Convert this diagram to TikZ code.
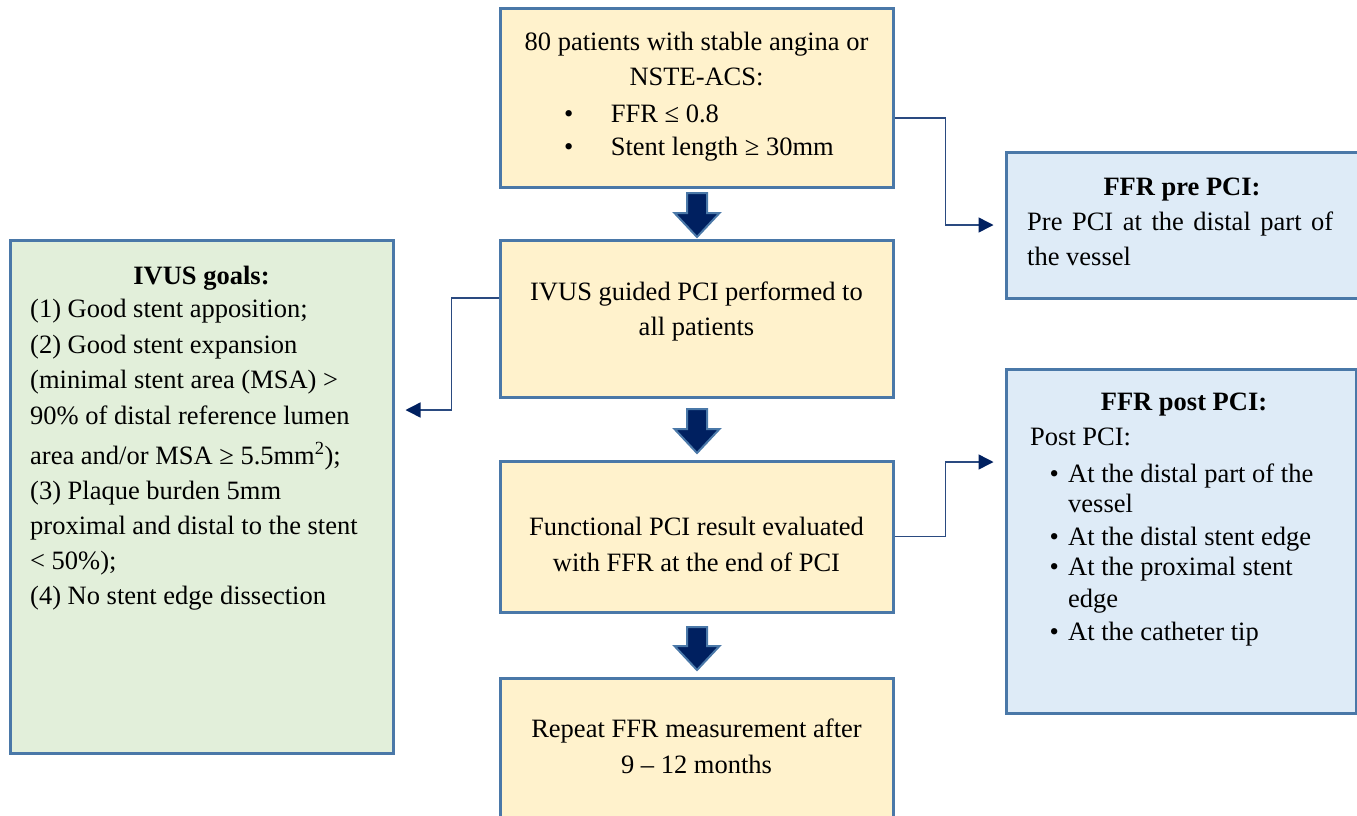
\documentclass[tikz,border=0pt]{standalone}
\usepackage{fontspec}
\setmainfont{Liberation Serif}
\usetikzlibrary{arrows.meta}
\definecolor{bordc}{HTML}{4A78A8}
\definecolor{yfill}{HTML}{FFF2CC}
\definecolor{gfill}{HTML}{E2EFDA}
\definecolor{bfill}{HTML}{DEEBF7}
\definecolor{navy}{HTML}{002060}
\definecolor{connc}{HTML}{2A4A80}
\tikzset{
  box/.style={draw=bordc, line width=3pt, rectangle, inner sep=0pt},
  ybox/.style={box, fill=yfill, minimum width=393pt},
  gbox/.style={box, fill=gfill},
  bbox/.style={box, fill=bfill},
  txt/.style={inner sep=0pt, font=\fontsize{26.5}{35}\selectfont},
  conn/.style={draw=connc, line width=1.5pt, -{Triangle[length=15pt,width=15pt,color=navy]}, shorten >=11pt},
  barrow/.style={fill=navy, draw=bordc, line width=2pt, line join=miter}
}
\begin{document}
\begin{tikzpicture}[x=1pt,y=-1pt]
\clip (0,0) rectangle (1357,815);
\fill[white] (0,0) rectangle (1357,815);
% boxes
\node[ybox, minimum height=179pt] (top) at (696.5,97.5) {};
\node[ybox, minimum height=157pt] (ivus) at (696.5,318.5) {};
\node[ybox, minimum height=151pt] (func) at (696.5,536.5) {};
\node[ybox, minimum height=162pt] (rep) at (696.5,759) {};
\node[gbox, minimum width=383pt, minimum height=513pt] (goals) at (201.5,496.5) {};
\node[bbox, minimum width=356pt, minimum height=146pt] (pre) at (1184,225) {};
\node[bbox, minimum width=350pt, minimum height=344pt] (post) at (1181,541) {};
% block arrows
\foreach \t/\b in {193/237,409/453,627/670}{
  \pgfmathsetmacro{\hs}{\b-24}
  \draw[barrow] (687,\t) -- (707,\t) -- (707,\hs) -- (719.5,\hs) -- (697,\b) -- (674.5,\hs) -- (687,\hs) -- cycle;
}
% connectors
\draw[conn] ([yshift=-20.5pt]top.east) -- ++(51,0) |- (pre.west);
\draw[conn] ([yshift=20.5pt]ivus.west) -- ++(-47,0) |- ([yshift=86.5pt]goals.east);
\draw[conn] (func.east) -- ++(51,0) |- ([yshift=79pt]post.west);
% texts (multi-line nodes anchored at the baseline of their last line)
\node[txt, anchor=base, align=center] (topA) at (696.5,85) {80 patients with stable angina or\\NSTE-ACS:};
\node[txt, anchor=base west, align=left] (topB) at (563.9,155) {\makebox[46.8pt][l]{•}FFR ≤ 0.8\\[-2pt]\makebox[46.8pt][l]{•}Stent length ≥ 30mm};
\node[txt, anchor=base, align=center] (ivusT) at (696.5,335) {IVUS guided PCI performed to\\all patients};
\node[txt, anchor=base, align=center] (funcT) at (696.5,571) {Functional PCI result evaluated\\[1pt]with FFR at the end of PCI};
\node[txt, anchor=base, align=center] (repT) at (696.5,773) {Repeat FFR measurement after\\[1pt]9 – 12 months};
\node[txt, anchor=base, font=\fontsize{26.5}{35}\selectfont\bfseries] (goalsH) at (201.5,284) {IVUS goals:};
\node[txt, anchor=base west, align=left] (goalsT) at (30,604) {(1) Good stent apposition;\\[0.5pt](2) Good stent expansion\\[0.5pt](minimal stent area (MSA) >\\[0.5pt]90\% of distal reference lumen\\[5pt]area and/or MSA ≥ 5.5mm\textsuperscript{2});\\(3) Plaque burden 5mm\\proximal and distal to the stent\\< 50\%);\\(4) No stent edge dissection};
\node[txt, anchor=base, font=\fontsize{26.5}{35}\selectfont\bfseries] (preH) at (1182,195) {FFR pre PCI:};
\node[txt, anchor=base west, align=left] (preT) at (1027,265) {\makebox[306pt][s]{Pre PCI at the distal part of}\\the vessel};
\node[txt, anchor=base, font=\fontsize{26.5}{35}\selectfont\bfseries] (postH) at (1184,410) {FFR post PCI:};
\node[txt, anchor=base west, align=left, font=\fontsize{26.5}{30}\selectfont] (postT) at (1030,640) {Post PCI:\\[7pt]\hspace*{19.4pt}\makebox[18.6pt][l]{•}At the distal part of the\\\hspace*{38pt}vessel\\[3pt]\hspace*{19.4pt}\makebox[18.6pt][l]{•}At the distal stent edge\\\hspace*{19.4pt}\makebox[18.6pt][l]{•}At the proximal stent\\[2pt]\hspace*{38pt}edge\\[3pt]\hspace*{19.4pt}\makebox[18.6pt][l]{•}At the catheter tip};
\end{tikzpicture}
\end{document}
